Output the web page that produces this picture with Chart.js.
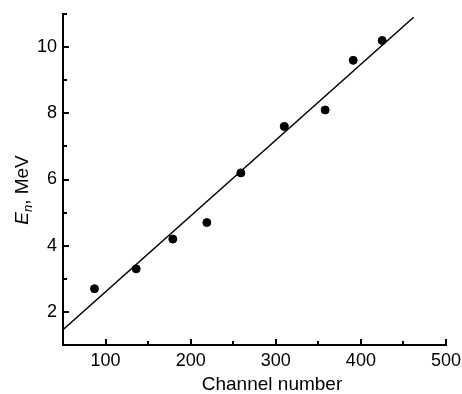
<!DOCTYPE html>
<html>
<head>
<meta charset="utf-8">
<script src="https://cdn.jsdelivr.net/npm/chart.js@4/dist/chart.umd.min.js"></script>
<style>
  html, body { margin: 0; padding: 0; background: #fff; }
  #wrap { width: 462px; height: 394px; }
</style>
</head>
<body>
<div id="wrap"><canvas id="enChart"></canvas></div>
<script>
// Measured points (channel, energy in MeV)
const channels = [87, 136, 179, 219, 259, 310, 358, 391, 425];
const energies = [2.7, 3.3, 4.2, 4.7, 6.2, 7.6, 8.1, 9.6, 10.2];

// Fitted calibration line, end points
const fitChannels = [50, 462];
const fitEnergies = [1.46, 10.9];

const xMajor = [100, 200, 300, 400, 500];
const xMinor = [150, 250, 350, 450];
const yMajor = [2, 4, 6, 8, 10];
const yMinor = [3, 5, 7, 9];

const FONT = 'Liberation Sans, Arial, sans-serif';

// inward ticks + axis titles
const decor = {
  id: 'decor',
  afterDraw(chart) {
    const ctx = chart.ctx;
    const xs = chart.scales.x, ys = chart.scales.y;
    const area = chart.chartArea;
    ctx.save();
    ctx.strokeStyle = '#000';
    ctx.lineWidth = 2;
    ctx.beginPath();
    xMajor.forEach(v => {
      const px = Math.round(xs.getPixelForValue(v));
      ctx.moveTo(px, area.bottom); ctx.lineTo(px, area.bottom - 6);
    });
    xMinor.forEach(v => {
      const px = Math.round(xs.getPixelForValue(v));
      ctx.moveTo(px, area.bottom); ctx.lineTo(px, area.bottom - 4);
    });
    yMajor.forEach(v => {
      const py = Math.round(ys.getPixelForValue(v));
      ctx.moveTo(area.left, py); ctx.lineTo(area.left + 6, py);
    });
    yMinor.forEach(v => {
      const py = Math.round(ys.getPixelForValue(v));
      ctx.moveTo(area.left, py); ctx.lineTo(area.left + 4, py);
    });
    // small cap at top of y axis
    ctx.moveTo(area.left, area.top); ctx.lineTo(area.left + 4, area.top);
    ctx.stroke();

    ctx.fillStyle = '#000';
    // x title
    ctx.font = '19px ' + FONT;
    ctx.textAlign = 'center';
    ctx.textBaseline = 'alphabetic';
    ctx.fillText('Channel number', 272, 390);

    // y title: E_n, MeV (E and n italic)
    ctx.translate(28, 190);
    ctx.rotate(-Math.PI / 2);
    const it = 'italic 19px ' + FONT;
    const itSmall = 'italic 13px ' + FONT;
    const rg = '19px ' + FONT;
    ctx.font = it; const wE = ctx.measureText('E').width;
    ctx.font = itSmall; const wn = ctx.measureText('n').width;
    ctx.font = rg; const wR = ctx.measureText(', MeV').width;
    let x = -(wE + wn + wR) / 2;
    ctx.textAlign = 'left';
    ctx.font = it; ctx.fillText('E', x, 0); x += wE;
    ctx.font = itSmall; ctx.fillText('n', x, 4); x += wn;
    ctx.font = rg; ctx.fillText(', MeV', x, 0);
    ctx.restore();
  }
};

new Chart(document.getElementById('enChart'), {
  type: 'scatter',
  data: {
    datasets: [{
      label: 'data',
      data: channels.map((c, i) => ({ x: c, y: energies[i] })),
      backgroundColor: '#000',
      borderColor: '#000',
      pointRadius: 4,
      pointHoverRadius: 4
    }, {
      label: 'fit',
      type: 'line',
      data: fitChannels.map((c, i) => ({ x: c, y: fitEnergies[i] })),
      borderColor: '#000',
      borderWidth: 1.5,
      pointRadius: 0,
      fill: false
    }]
  },
  options: {
    responsive: true,
    maintainAspectRatio: false,
    animation: false,
    layout: { padding: { left: 0, right: 16, top: 14, bottom: 0 } },
    plugins: { legend: { display: false }, tooltip: { enabled: false } },
    scales: {
      x: {
        type: 'linear',
        min: 50, max: 500,
        afterFit: s => { s.height = 49; s.paddingLeft = 0; s.paddingRight = 0; },
        afterBuildTicks: s => { s.ticks = xMajor.map(v => ({ value: v })); },
        grid: { display: false, drawTicks: false },
        border: { display: true, color: '#000', width: 2 },
        ticks: { color: '#000', padding: 5, maxRotation: 0, font: { family: FONT, size: 18 } }
      },
      y: {
        type: 'linear',
        min: 1, max: 11,
        afterFit: s => { s.width = 63; s.paddingTop = 0; s.paddingBottom = 0; },
        afterBuildTicks: s => { s.ticks = yMajor.map(v => ({ value: v })); },
        grid: { display: false, drawTicks: false },
        border: { display: true, color: '#000', width: 2 },
        ticks: { color: '#000', padding: 6, font: { family: FONT, size: 18 } }
      }
    }
  },
  plugins: [decor]
});
</script>
</body>
</html>
